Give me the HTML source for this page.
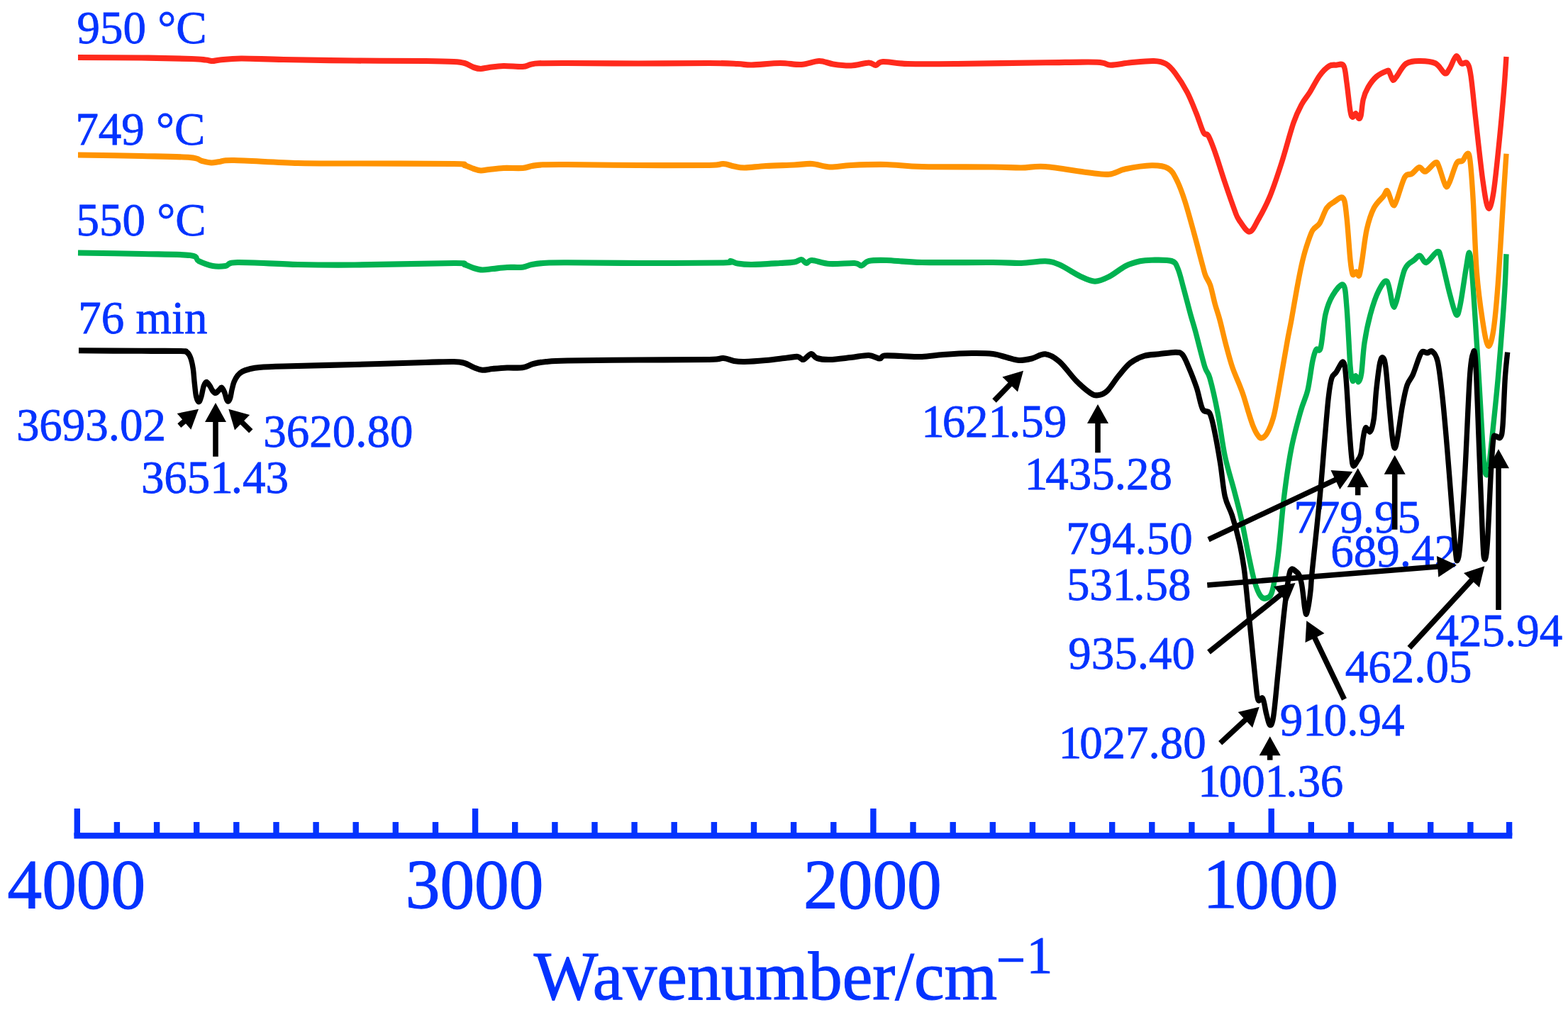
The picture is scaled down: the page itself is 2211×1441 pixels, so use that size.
<!DOCTYPE html>
<html lang="en"><head><meta charset="utf-8"><title>FTIR spectra</title>
<style>html,body{margin:0;padding:0;background:#fff;}body{width:2211px;height:1441px;overflow:hidden;}svg{display:block;}text{font-family:"Liberation Serif","DejaVu Serif",serif;fill:#0433ff;}.lab{stroke:#0433ff;stroke-width:0.8px;}.big{stroke-width:1.2px;}.c{fill:none;stroke-width:7.4;stroke-linejoin:round;stroke-linecap:butt;}</style></head><body>
<svg width="2211" height="1441" viewBox="0 0 2211 1441">
<rect width="2211" height="1441" fill="#fff"/>
<g class="lab" font-size="66.5">
<text transform="translate(108.6,60.6) scale(0.977,1)">950 °C</text>
<text transform="translate(106.4,204.1) scale(0.977,1)">749 °C</text>
<text transform="translate(107.6,332.4) scale(0.977,1)">550 °C</text>
<text transform="translate(110.3,469.7) scale(0.977,1)">76 min</text>
<text transform="translate(22.9,621.1) scale(0.977,1)">3693.02</text>
<text transform="translate(198.9,695.3) scale(0.977,1)" dx="0 0 0 0 -3.1 0 0">3651.43</text>
<text transform="translate(371.3,629.6) scale(0.977,1)">3620.80</text>
<text transform="translate(1299.2,615.7) scale(0.977,1)" dx="0 -3.1 0 0 -3.1 0 0">1621.59</text>
<text transform="translate(1444.8,689.9) scale(0.977,1)" dx="0 -3.1 0 0 0 0 0">1435.28</text>
<text transform="translate(1503.2,781.4) scale(0.977,1)">794.50</text>
<text transform="translate(1503.9,845.6) scale(0.977,1)" dx="0 0 0 -3.1 0 0">531.58</text>
<text transform="translate(1506.3,942.9) scale(0.977,1)">935.40</text>
<text transform="translate(1492.7,1069.1) scale(0.977,1)" dx="0 -3.1 0 0 0 0 0">1027.80</text>
<text transform="translate(1689.3,1122.7) scale(0.977,1)" dx="0 -3.1 0 0 -3.1 0 0">1001.36</text>
<text transform="translate(1804.8,1037.4) scale(0.977,1)" dx="0 0 -3.1 0 0 0">910.94</text>
<text transform="translate(1896.8,962.4) scale(0.977,1)">462.05</text>
<text transform="translate(2024.6,910.6) scale(0.977,1)">425.94</text>
<text transform="translate(1824.4,751.4) scale(0.977,1)">779.95</text>
<text transform="translate(1876.3,798.6) scale(0.977,1)">689.42</text>
</g>
<g transform="scale(1,1.1)">
<path class="c" stroke="#00b250" d="M110.00 324.09C125.00 324.32 173.67 324.92 200.00 325.45C226.33 325.98 254.67 325.76 268.00 327.27C281.33 328.79 274.67 332.27 280.00 334.55C285.33 336.82 293.67 339.85 300.00 340.91C306.33 341.97 312.17 341.67 318.00 340.91C323.83 340.15 318.00 336.67 335.00 336.36C352.00 336.06 392.50 338.56 420.00 339.09C447.50 339.62 463.33 339.85 500.00 339.55C536.67 339.24 614.17 337.35 640.00 337.27C665.83 337.20 650.33 338.03 655.00 339.09C659.67 340.15 663.83 342.50 668.00 343.64C672.17 344.77 675.50 345.76 680.00 345.91C684.50 346.06 689.17 345.08 695.00 344.55C700.83 344.02 708.00 343.08 715.00 342.73C722.00 342.38 731.17 343.06 737.00 342.45C742.83 341.85 744.50 340.00 750.00 339.09C755.50 338.18 761.67 337.41 770.00 337.00C778.33 336.59 778.33 336.59 800.00 336.64C821.67 336.68 863.33 337.24 900.00 337.27C936.67 337.30 998.33 337.27 1020.00 336.82C1041.67 336.36 1026.67 334.39 1030.00 334.55C1033.33 334.70 1035.00 336.97 1040.00 337.73C1045.00 338.48 1050.00 339.17 1060.00 339.09C1070.00 339.02 1090.00 337.80 1100.00 337.27C1110.00 336.74 1115.00 336.67 1120.00 335.91C1125.00 335.15 1127.17 332.50 1130.00 332.73C1132.83 332.95 1134.50 337.12 1137.00 337.27C1139.50 337.42 1139.50 333.48 1145.00 333.64C1150.50 333.79 1160.00 337.58 1170.00 338.18C1180.00 338.79 1197.50 336.89 1205.00 337.27C1212.50 337.65 1211.67 340.91 1215.00 340.45C1218.33 340.00 1219.17 335.68 1225.00 334.55C1230.83 333.41 1237.50 333.33 1250.00 333.64C1262.50 333.94 1275.00 335.91 1300.00 336.36C1325.00 336.82 1376.67 336.21 1400.00 336.36C1423.33 336.52 1427.67 337.53 1440.00 337.27C1452.33 337.02 1465.00 334.47 1474.00 334.82C1483.00 335.17 1485.67 336.08 1494.00 339.36C1502.33 342.65 1515.67 351.00 1524.00 354.55C1532.33 358.09 1537.33 360.64 1544.00 360.64C1550.67 360.64 1556.78 357.83 1564.00 354.55C1571.22 351.26 1580.08 344.20 1587.30 340.91C1594.52 337.62 1601.18 336.08 1607.30 334.82C1613.42 333.56 1616.55 333.41 1624.00 333.36C1631.45 333.32 1645.83 332.68 1652.00 334.55C1658.17 336.41 1658.17 338.68 1661.00 344.55C1663.83 350.41 1666.05 359.98 1669.00 369.73C1671.95 379.47 1675.95 393.91 1678.70 403.00C1681.45 412.09 1682.17 413.15 1685.50 424.27C1688.83 435.39 1695.28 459.64 1698.70 469.73C1702.12 479.82 1702.90 474.73 1706.00 484.82C1709.10 494.91 1713.75 513.61 1717.30 530.27C1720.85 546.94 1723.40 568.15 1727.30 584.82C1731.20 601.48 1736.80 616.64 1740.70 630.27C1744.60 643.91 1747.37 653.00 1750.70 666.64C1754.03 680.27 1757.65 698.95 1760.70 712.09C1763.75 725.23 1766.23 736.86 1769.00 745.45C1771.77 754.05 1774.52 760.11 1777.30 763.64C1780.08 767.17 1782.92 767.65 1785.70 766.64C1788.48 765.62 1791.23 766.64 1794.00 757.55C1796.77 748.45 1799.52 732.29 1802.30 712.09C1805.08 691.89 1807.63 659.09 1810.70 636.36C1813.77 613.64 1816.82 593.91 1820.70 575.73C1824.58 557.55 1830.12 539.89 1834.00 527.27C1837.88 514.65 1841.22 510.61 1844.00 500.00C1846.78 489.39 1848.75 472.23 1850.70 463.64C1852.65 455.05 1853.77 451.48 1855.70 448.45C1857.63 445.42 1860.08 453.03 1862.30 445.45C1864.52 437.88 1866.22 414.11 1869.00 403.00C1871.78 391.89 1874.83 385.12 1879.00 378.82C1883.17 372.52 1890.67 362.67 1894.00 365.18C1897.33 367.70 1897.33 376.48 1899.00 393.91C1900.67 411.33 1902.62 454.06 1904.00 469.73C1905.38 485.39 1906.02 485.89 1907.30 487.91C1908.58 489.92 1910.30 481.58 1911.70 481.82C1913.10 482.06 1914.37 489.86 1915.70 489.36C1917.03 488.86 1918.32 487.15 1919.70 478.82C1921.08 470.48 1921.90 452.00 1924.00 439.36C1926.10 426.73 1928.97 414.11 1932.30 403.00C1935.63 391.89 1940.05 379.74 1944.00 372.73C1947.95 365.71 1952.67 357.88 1956.00 360.91C1959.33 363.94 1961.83 386.67 1964.00 390.91C1966.17 395.15 1966.22 393.94 1969.00 386.36C1971.78 378.79 1976.53 354.29 1980.70 345.45C1984.87 336.62 1990.40 336.29 1994.00 333.36C1997.60 330.44 1999.42 327.41 2002.30 327.91C2005.18 328.41 2007.23 337.23 2011.30 336.36C2015.37 335.50 2023.20 323.48 2026.70 322.73C2030.20 321.97 2029.42 322.98 2032.30 331.82C2035.18 340.65 2040.50 363.86 2044.00 375.73C2047.50 387.59 2050.80 400.47 2053.30 403.00C2055.80 405.53 2056.67 400.80 2059.00 390.91C2061.33 381.02 2065.17 354.77 2067.30 343.64C2069.43 332.50 2070.40 323.03 2071.80 324.09C2073.20 325.15 2073.95 330.79 2075.70 350.00C2077.45 369.21 2080.37 411.83 2082.30 439.36C2084.23 466.89 2085.63 489.92 2087.30 515.18C2088.97 540.44 2091.02 575.52 2092.30 590.91C2093.58 606.30 2093.88 606.03 2095.00 607.55C2096.12 609.06 2097.22 610.35 2099.00 600.00C2100.78 589.65 2103.48 564.65 2105.70 545.45C2107.92 526.26 2110.08 507.55 2112.30 484.82C2114.52 462.09 2117.33 429.29 2119.00 409.09C2120.67 388.89 2121.47 377.53 2122.30 363.64C2123.13 349.74 2123.72 332.05 2124.00 325.73"/>
<path class="c" stroke="#ff9300" d="M110.00 198.64C125.00 198.86 173.67 199.47 200.00 200.00C226.33 200.53 253.83 200.76 268.00 201.82C282.17 202.88 280.00 205.23 285.00 206.36C290.00 207.50 293.83 208.48 298.00 208.64C302.17 208.79 304.67 207.80 310.00 207.27C315.33 206.74 311.67 205.15 330.00 205.45C348.33 205.76 391.67 208.41 420.00 209.09C448.33 209.77 463.33 209.39 500.00 209.55C536.67 209.70 614.17 209.62 640.00 210.00C665.83 210.38 650.33 210.76 655.00 211.82C659.67 212.88 664.17 215.23 668.00 216.36C671.83 217.50 674.33 218.48 678.00 218.64C681.67 218.79 684.67 217.80 690.00 217.27C695.33 216.74 702.17 215.76 710.00 215.45C717.83 215.15 730.33 215.91 737.00 215.45C743.67 215.00 745.33 213.44 750.00 212.73C754.67 212.02 756.67 211.48 765.00 211.18C773.33 210.88 777.50 210.80 800.00 210.91C822.50 211.02 866.67 211.67 900.00 211.82C933.33 211.97 980.00 212.12 1000.00 211.82C1020.00 211.52 1014.17 209.77 1020.00 210.00C1025.83 210.23 1030.00 212.35 1035.00 213.18C1040.00 214.02 1042.50 215.08 1050.00 215.00C1057.50 214.92 1068.33 213.33 1080.00 212.73C1091.67 212.12 1109.17 211.82 1120.00 211.36C1130.83 210.91 1136.67 209.55 1145.00 210.00C1153.33 210.45 1160.83 213.79 1170.00 214.09C1179.17 214.39 1186.67 212.35 1200.00 211.82C1213.33 211.29 1233.33 210.61 1250.00 210.91C1266.67 211.21 1275.00 213.11 1300.00 213.64C1325.00 214.17 1376.67 213.86 1400.00 214.09C1423.33 214.32 1427.67 215.08 1440.00 215.00C1452.33 214.92 1458.33 212.61 1474.00 213.64C1489.67 214.67 1519.00 219.56 1534.00 221.18C1549.00 222.80 1555.17 224.12 1564.00 223.36C1572.83 222.61 1577.00 218.52 1587.00 216.64C1597.00 214.76 1614.00 212.24 1624.00 212.09C1634.00 211.94 1641.17 212.70 1647.00 215.73C1652.83 218.76 1655.05 223.30 1659.00 230.27C1662.95 237.24 1666.53 245.92 1670.70 257.55C1674.87 269.17 1679.87 286.36 1684.00 300.00C1688.13 313.64 1692.83 330.44 1695.50 339.36C1698.17 348.29 1698.15 349.17 1700.00 353.55C1701.85 357.92 1704.38 359.59 1706.60 365.64C1708.82 371.68 1711.07 382.42 1713.30 389.82C1715.53 397.21 1717.42 401.24 1720.00 410.00C1722.58 418.76 1725.85 432.26 1728.80 442.36C1731.75 452.47 1734.73 462.56 1737.70 470.64C1740.67 478.71 1744.00 484.77 1746.60 490.82C1749.20 496.86 1751.07 500.86 1753.30 506.91C1755.53 512.95 1757.78 520.70 1760.00 527.09C1762.22 533.48 1764.40 540.23 1766.60 545.27C1768.80 550.32 1771.17 554.67 1773.20 557.36C1775.23 560.06 1776.57 561.79 1778.80 561.45C1781.03 561.12 1783.82 559.74 1786.60 555.36C1789.38 550.98 1793.10 542.59 1795.50 535.18C1797.90 527.77 1798.78 521.67 1801.00 510.91C1803.22 500.15 1806.40 483.08 1808.80 470.64C1811.20 458.20 1813.37 446.38 1815.40 436.27C1817.43 426.17 1818.77 421.11 1821.00 410.00C1823.23 398.89 1826.40 381.41 1828.80 369.64C1831.20 357.86 1833.28 347.94 1835.40 339.36C1837.52 330.79 1838.95 325.50 1841.50 318.18C1844.05 310.86 1847.50 300.76 1850.70 295.45C1853.90 290.15 1857.37 291.17 1860.70 286.36C1864.03 281.56 1867.37 271.18 1870.70 266.64C1874.03 262.09 1876.82 261.18 1880.70 259.09C1884.58 257.00 1890.95 250.80 1894.00 254.09C1897.05 257.38 1897.33 265.61 1899.00 278.82C1900.67 292.03 1902.62 321.24 1904.00 333.36C1905.38 345.48 1905.92 349.03 1907.30 351.55C1908.68 354.06 1910.73 348.21 1912.30 348.45C1913.87 348.70 1915.30 355.52 1916.70 353.00C1918.10 350.48 1918.93 343.21 1920.70 333.36C1922.47 323.52 1924.53 305.03 1927.30 293.91C1930.07 282.79 1933.40 273.70 1937.30 266.64C1941.20 259.58 1947.53 255.18 1950.70 251.55C1953.87 247.91 1954.08 243.06 1956.30 244.82C1958.52 246.58 1961.88 259.97 1964.00 262.09C1966.12 264.21 1966.22 263.35 1969.00 257.55C1971.78 251.74 1977.08 233.08 1980.70 227.27C1984.32 221.47 1987.27 224.85 1990.70 222.73C1994.13 220.61 1998.08 215.05 2001.30 214.55C2004.52 214.05 2006.22 220.74 2010.00 219.73C2013.78 218.71 2020.83 209.47 2024.00 208.45C2027.17 207.44 2026.62 208.73 2029.00 213.64C2031.38 218.55 2035.80 234.62 2038.30 237.91C2040.80 241.20 2041.38 238.17 2044.00 233.36C2046.62 228.56 2050.95 213.64 2054.00 209.09C2057.05 204.55 2059.80 208.11 2062.30 206.09C2064.80 204.08 2067.22 197.00 2069.00 197.00C2070.78 197.00 2071.62 196.00 2073.00 206.09C2074.38 216.18 2075.75 233.82 2077.30 257.55C2078.85 281.27 2080.07 322.70 2082.30 348.45C2084.53 374.21 2088.03 396.33 2090.70 412.09C2093.37 427.85 2095.80 440.97 2098.30 443.00C2100.80 445.03 2103.37 437.50 2105.70 424.27C2108.03 411.05 2109.80 393.94 2112.30 363.64C2114.80 333.33 2118.75 270.23 2120.70 242.45C2122.65 214.68 2123.45 204.58 2124.00 197.00"/>
<path class="c" stroke="#ff2a1c" d="M110.00 73.64C125.00 73.71 173.33 73.79 200.00 74.09C226.67 74.39 255.00 75.00 270.00 75.45C285.00 75.91 285.00 76.36 290.00 76.82C295.00 77.27 296.67 78.18 300.00 78.18C303.33 78.18 303.33 77.35 310.00 76.82C316.67 76.29 325.00 75.08 340.00 75.00C355.00 74.92 373.33 75.91 400.00 76.36C426.67 76.82 466.67 77.42 500.00 77.73C533.33 78.03 576.67 77.95 600.00 78.18C623.33 78.41 630.83 78.64 640.00 79.09C649.17 79.55 650.33 79.70 655.00 80.91C659.67 82.12 664.17 85.15 668.00 86.36C671.83 87.58 674.33 88.18 678.00 88.18C681.67 88.18 684.67 86.97 690.00 86.36C695.33 85.76 702.17 84.70 710.00 84.55C717.83 84.39 730.67 85.76 737.00 85.45C743.33 85.15 744.17 83.44 748.00 82.73C751.83 82.02 751.33 81.48 760.00 81.18C768.67 80.88 776.67 80.88 800.00 80.91C823.33 80.94 866.67 81.36 900.00 81.36C933.33 81.36 976.67 80.83 1000.00 80.91C1023.33 80.98 1030.00 81.44 1040.00 81.82C1050.00 82.20 1050.00 83.33 1060.00 83.18C1070.00 83.03 1088.33 80.98 1100.00 80.91C1111.67 80.83 1120.83 83.18 1130.00 82.73C1139.17 82.27 1147.50 78.26 1155.00 78.18C1162.50 78.11 1167.50 81.29 1175.00 82.27C1182.50 83.26 1191.67 84.39 1200.00 84.09C1208.33 83.79 1219.17 80.53 1225.00 80.45C1230.83 80.38 1231.67 83.86 1235.00 83.64C1238.33 83.41 1237.50 79.39 1245.00 79.09C1252.50 78.79 1262.50 81.36 1280.00 81.82C1297.50 82.27 1317.67 82.08 1350.00 81.82C1382.33 81.56 1441.17 80.62 1474.00 80.27C1506.83 79.92 1531.67 79.21 1547.00 79.73C1562.33 80.24 1558.17 83.27 1566.00 83.36C1573.83 83.45 1583.83 81.14 1594.00 80.27C1604.17 79.41 1618.67 77.92 1627.00 78.18C1635.33 78.44 1639.00 79.24 1644.00 81.82C1649.00 84.39 1652.00 87.58 1657.00 93.64C1662.00 99.70 1669.00 109.55 1674.00 118.18C1679.00 126.82 1683.17 136.86 1687.00 145.45C1690.83 154.05 1694.17 164.92 1697.00 169.73C1699.83 174.53 1701.17 169.73 1704.00 174.27C1706.83 178.82 1710.17 187.15 1714.00 197.00C1717.83 206.85 1722.50 221.24 1727.00 233.36C1731.50 245.48 1737.67 261.65 1741.00 269.73C1744.33 277.80 1743.55 277.27 1747.00 281.82C1750.45 286.36 1757.20 297.00 1761.70 297.00C1766.20 297.00 1769.17 289.39 1774.00 281.82C1778.83 274.24 1785.20 263.67 1790.70 251.55C1796.20 239.42 1801.45 224.80 1807.00 209.09C1812.55 193.38 1819.22 169.89 1824.00 157.27C1828.78 144.65 1831.87 139.88 1835.70 133.36C1839.53 126.85 1842.83 124.24 1847.00 118.18C1851.17 112.12 1856.20 102.56 1860.70 97.00C1865.20 91.44 1870.12 87.09 1874.00 84.82C1877.88 82.55 1880.55 83.45 1884.00 83.36C1887.45 83.27 1892.20 80.48 1894.70 84.27C1897.20 88.06 1897.45 96.39 1899.00 106.09C1900.55 115.79 1902.62 135.14 1904.00 142.45C1905.38 149.77 1906.02 149.50 1907.30 150.00C1908.58 150.50 1910.30 145.20 1911.70 145.45C1913.10 145.71 1914.48 151.05 1915.70 151.55C1916.92 152.05 1917.90 152.50 1919.00 148.45C1920.10 144.41 1920.63 133.33 1922.30 127.27C1923.97 121.21 1925.93 116.89 1929.00 112.09C1932.07 107.29 1936.25 101.98 1940.70 98.45C1945.15 94.92 1952.65 91.91 1955.70 90.91C1958.75 89.91 1957.62 90.53 1959.00 92.45C1960.38 94.38 1962.33 101.45 1964.00 102.45C1965.67 103.45 1965.95 101.89 1969.00 98.45C1972.05 95.02 1977.02 85.20 1982.30 81.82C1987.58 78.44 1993.75 78.29 2000.70 78.18C2007.65 78.08 2017.90 78.56 2024.00 81.18C2030.10 83.80 2033.97 92.79 2037.30 93.91C2040.63 95.03 2041.33 91.55 2044.00 87.91C2046.67 84.27 2050.52 73.21 2053.30 72.09C2056.08 70.97 2058.08 79.67 2060.70 81.18C2063.32 82.70 2066.78 78.55 2069.00 81.18C2071.22 83.82 2072.05 85.27 2074.00 97.00C2075.95 108.73 2077.92 129.33 2080.70 151.55C2083.48 173.76 2087.77 211.14 2090.70 230.27C2093.63 249.41 2095.80 263.38 2098.30 266.36C2100.80 269.35 2103.08 262.27 2105.70 248.18C2108.32 234.09 2111.50 203.98 2114.00 181.82C2116.50 159.65 2119.03 133.36 2120.70 115.18C2122.37 97.00 2123.45 79.80 2124.00 72.73"/>
<path class="c" stroke="#000000" d="M111.00 449.36C125.83 449.44 176.00 449.71 200.00 449.82C224.00 449.92 244.33 449.67 255.00 450.00C265.67 450.33 261.68 450.30 264.00 451.82C266.32 453.33 267.52 455.61 268.90 459.09C270.28 462.58 271.42 467.52 272.30 472.73C273.18 477.94 273.48 484.47 274.20 490.36C274.92 496.26 275.55 504.00 276.60 508.09C277.65 512.18 279.28 514.91 280.50 514.91C281.72 514.91 282.77 511.44 283.90 508.09C285.03 504.74 286.08 497.85 287.30 494.82C288.52 491.79 289.75 489.91 291.20 489.91C292.65 489.91 294.55 492.97 296.00 494.82C297.45 496.67 298.52 499.53 299.90 501.00C301.28 502.47 302.83 503.79 304.30 503.64C305.77 503.48 307.32 501.20 308.70 500.09C310.08 498.98 311.30 496.56 312.60 497.00C313.90 497.44 315.37 500.30 316.50 502.73C317.63 505.15 318.52 509.62 319.40 511.55C320.28 513.47 320.92 514.56 321.80 514.27C322.68 513.98 323.82 512.33 324.70 509.82C325.58 507.30 326.22 502.56 327.10 499.18C327.98 495.80 328.70 492.48 330.00 489.55C331.30 486.61 332.95 483.76 334.90 481.55C336.85 479.33 338.95 477.67 341.70 476.27C344.45 474.88 347.35 474.08 351.40 473.18C355.45 472.29 357.90 471.52 366.00 470.91C374.10 470.30 377.67 470.15 400.00 469.55C422.33 468.94 466.67 468.11 500.00 467.27C533.33 466.44 576.67 465.15 600.00 464.55C623.33 463.94 630.83 463.48 640.00 463.64C649.17 463.79 650.33 464.24 655.00 465.45C659.67 466.67 663.83 469.44 668.00 470.91C672.17 472.38 675.50 473.97 680.00 474.27C684.50 474.58 689.17 473.21 695.00 472.73C700.83 472.24 708.00 471.62 715.00 471.36C722.00 471.11 730.83 472.02 737.00 471.18C743.17 470.35 746.50 467.62 752.00 466.36C757.50 465.11 762.00 464.32 770.00 463.64C778.00 462.95 778.33 462.65 800.00 462.27C821.67 461.89 866.67 461.59 900.00 461.36C933.33 461.14 980.00 461.29 1000.00 460.91C1020.00 460.53 1014.17 458.79 1020.00 459.09C1025.83 459.39 1030.00 461.97 1035.00 462.73C1040.00 463.48 1042.50 463.79 1050.00 463.64C1057.50 463.48 1070.00 462.65 1080.00 461.82C1090.00 460.98 1102.50 459.39 1110.00 458.64C1117.50 457.88 1121.17 456.89 1125.00 457.27C1128.83 457.65 1129.88 461.52 1133.00 460.91C1136.12 460.30 1140.53 453.94 1143.70 453.64C1146.87 453.33 1147.62 457.88 1152.00 459.09C1156.38 460.30 1162.00 461.06 1170.00 460.91C1178.00 460.76 1190.83 459.09 1200.00 458.18C1209.17 457.27 1218.33 455.23 1225.00 455.45C1231.67 455.68 1236.33 459.47 1240.00 459.55C1243.67 459.62 1242.00 456.44 1247.00 455.91C1252.00 455.38 1261.17 456.14 1270.00 456.36C1278.83 456.59 1290.00 457.58 1300.00 457.27C1310.00 456.97 1318.33 455.30 1330.00 454.55C1341.67 453.79 1358.33 452.88 1370.00 452.73C1381.67 452.58 1391.67 452.73 1400.00 453.64C1408.33 454.55 1413.83 456.82 1420.00 458.18C1426.17 459.55 1431.17 461.59 1437.00 461.82C1442.83 462.05 1448.83 460.86 1455.00 459.55C1461.17 458.23 1467.50 453.23 1474.00 453.91C1480.50 454.59 1486.78 457.97 1494.00 463.64C1501.22 469.30 1510.08 481.24 1517.30 487.91C1524.52 494.58 1532.18 500.52 1537.30 503.64C1542.42 506.76 1544.10 506.98 1548.00 506.64C1551.90 506.29 1555.82 505.68 1560.70 501.55C1565.58 497.41 1571.75 487.88 1577.30 481.82C1582.85 475.76 1587.88 469.47 1594.00 465.18C1600.12 460.89 1607.33 457.97 1614.00 456.09C1620.67 454.21 1626.78 454.67 1634.00 453.91C1641.22 453.15 1651.75 451.44 1657.30 451.55C1662.85 451.65 1664.23 451.52 1667.30 454.55C1670.37 457.58 1672.37 462.65 1675.70 469.73C1679.03 476.80 1683.97 487.91 1687.30 497.00C1690.63 506.09 1692.63 518.82 1695.70 524.27C1698.77 529.73 1702.93 525.18 1705.70 529.73C1708.47 534.27 1709.80 540.85 1712.30 551.55C1714.80 562.24 1718.20 579.77 1720.70 593.91C1723.20 608.05 1724.53 625.24 1727.30 636.36C1730.07 647.48 1733.97 651.05 1737.30 660.64C1740.63 670.23 1744.52 682.80 1747.30 693.91C1750.08 705.02 1752.33 717.17 1754.00 727.27C1755.67 737.38 1755.63 739.89 1757.30 754.55C1758.97 769.20 1761.77 794.98 1764.00 815.18C1766.23 835.38 1769.03 862.09 1770.70 875.73C1772.37 889.36 1772.33 893.71 1774.00 897.00C1775.67 900.29 1778.75 892.42 1780.70 895.45C1782.65 898.48 1784.03 909.58 1785.70 915.18C1787.37 920.79 1789.03 928.59 1790.70 929.09C1792.37 929.59 1793.77 929.59 1795.70 918.18C1797.63 906.77 1799.80 882.86 1802.30 860.64C1804.80 838.41 1808.20 805.03 1810.70 784.82C1813.20 764.61 1815.52 748.58 1817.30 739.36C1819.08 730.15 1819.78 730.73 1821.40 729.55C1823.02 728.36 1825.23 730.98 1827.00 732.27C1828.77 733.56 1830.58 734.47 1832.00 737.27C1833.42 740.08 1834.55 744.70 1835.50 749.09C1836.45 753.48 1837.00 758.64 1837.70 763.64C1838.40 768.64 1839.02 775.15 1839.70 779.09C1840.38 783.03 1841.03 787.12 1841.80 787.27C1842.57 787.42 1843.52 783.18 1844.30 780.00C1845.08 776.82 1845.83 772.42 1846.50 768.18C1847.17 763.94 1847.63 760.91 1848.30 754.55C1848.97 748.18 1848.35 749.70 1850.50 730.00C1852.65 710.30 1858.25 664.59 1861.20 636.36C1864.15 608.14 1866.18 581.85 1868.20 560.64C1870.22 539.42 1871.70 521.73 1873.30 509.09C1874.90 496.45 1876.02 490.12 1877.80 484.82C1879.58 479.52 1881.30 480.73 1884.00 477.27C1886.70 473.82 1891.67 462.83 1894.00 464.09C1896.33 465.35 1896.62 471.26 1898.00 484.82C1899.38 498.38 1901.02 528.79 1902.30 545.45C1903.58 562.12 1904.70 576.23 1905.70 584.82C1906.70 593.41 1906.92 595.98 1908.30 597.00C1909.68 598.02 1912.22 593.44 1914.00 590.91C1915.78 588.38 1917.62 586.86 1919.00 581.82C1920.38 576.77 1921.18 566.20 1922.30 560.64C1923.42 555.08 1924.03 549.73 1925.70 548.45C1927.37 547.18 1930.37 555.02 1932.30 553.00C1934.23 550.98 1935.90 545.20 1937.30 536.36C1938.70 527.53 1939.30 511.82 1940.70 500.00C1942.10 488.18 1944.15 472.35 1945.70 465.45C1947.25 458.56 1948.62 457.73 1950.00 458.64C1951.38 459.55 1952.50 460.48 1954.00 470.91C1955.50 481.33 1957.45 506.23 1959.00 521.18C1960.55 536.14 1962.02 551.79 1963.30 560.64C1964.58 569.48 1965.47 574.27 1966.70 574.27C1967.93 574.27 1968.93 569.48 1970.70 560.64C1972.47 551.79 1975.08 532.30 1977.30 521.18C1979.52 510.06 1981.50 500.73 1984.00 493.91C1986.50 487.09 1989.52 486.08 1992.30 480.27C1995.08 474.47 1998.50 463.98 2000.70 459.09C2002.90 454.20 2003.53 452.05 2005.50 450.91C2007.47 449.77 2010.17 452.35 2012.50 452.27C2014.83 452.20 2017.03 448.56 2019.50 450.45C2021.97 452.35 2024.88 453.86 2027.30 463.64C2029.72 473.41 2031.77 490.41 2034.00 509.09C2036.23 527.77 2038.48 551.98 2040.70 575.73C2042.92 599.47 2045.37 629.82 2047.30 651.55C2049.23 673.27 2051.02 694.98 2052.30 706.09C2053.58 717.20 2053.88 719.70 2055.00 718.18C2056.12 716.67 2057.22 715.68 2059.00 697.00C2060.78 678.32 2063.48 641.45 2065.70 606.09C2067.92 570.73 2070.47 510.15 2072.30 484.82C2074.13 459.48 2075.30 457.62 2076.70 454.09C2078.10 450.56 2079.20 443.36 2080.70 463.64C2082.20 483.91 2084.03 537.85 2085.70 575.73C2087.37 613.61 2089.43 667.42 2090.70 690.91C2091.97 714.39 2092.20 715.62 2093.30 716.64C2094.40 717.65 2095.80 715.42 2097.30 697.00C2098.80 678.58 2100.90 628.32 2102.30 606.09C2103.70 583.86 2104.58 571.47 2105.70 563.64C2106.82 555.80 2107.33 559.59 2109.00 559.09C2110.67 558.59 2114.03 562.91 2115.70 560.64C2117.37 558.36 2117.90 558.09 2119.00 545.45C2120.10 532.82 2121.18 500.47 2122.30 484.82C2123.42 469.17 2125.13 457.09 2125.70 451.55"/>
</g>
<line x1="252.8" y1="600.1" x2="261.0" y2="593.1" stroke="#000" stroke-width="7.6"/><polygon points="280.0,576.8 269.3,605.8 249.7,583.0" fill="#000"/>
<line x1="304.0" y1="643.8" x2="304.0" y2="593.1" stroke="#000" stroke-width="7.6"/><polygon points="304.0,568.1 319.0,595.1 289.0,595.1" fill="#000"/>
<line x1="353.8" y1="607.9" x2="340.1" y2="594.4" stroke="#000" stroke-width="7.6"/><polygon points="322.3,576.8 352.1,585.1 331.0,606.4" fill="#000"/>
<line x1="1402.0" y1="565.0" x2="1425.6" y2="540.7" stroke="#000" stroke-width="7.6"/><polygon points="1443.0,522.7 1435.0,552.5 1413.4,531.6" fill="#000"/>
<line x1="1548.0" y1="638.3" x2="1548.0" y2="595.0" stroke="#000" stroke-width="7.6"/><polygon points="1548.0,570.0 1563.0,597.0 1533.0,597.0" fill="#000"/>
<line x1="1704.0" y1="760.7" x2="1884.7" y2="675.6" stroke="#000" stroke-width="7.6"/><polygon points="1907.3,665.0 1889.3,690.1 1876.5,662.9" fill="#000"/>
<line x1="1914.7" y1="698.3" x2="1914.7" y2="685.0" stroke="#000" stroke-width="7.6"/><polygon points="1914.7,660.0 1929.7,687.0 1899.7,687.0" fill="#000"/>
<line x1="1966.7" y1="746.7" x2="1966.7" y2="666.7" stroke="#000" stroke-width="7.6"/><polygon points="1966.7,641.7 1981.7,668.7 1951.7,668.7" fill="#000"/>
<line x1="1702.3" y1="825.0" x2="2029.1" y2="798.7" stroke="#000" stroke-width="7.6"/><polygon points="2054.0,796.7 2028.3,813.8 2025.9,783.9" fill="#000"/>
<line x1="2113.0" y1="860.0" x2="2113.0" y2="658.3" stroke="#000" stroke-width="7.6"/><polygon points="2113.0,633.3 2128.0,660.3 2098.0,660.3" fill="#000"/>
<line x1="1704.5" y1="919.5" x2="1807.0" y2="837.6" stroke="#000" stroke-width="7.6"/><polygon points="1826.5,822.0 1814.8,850.6 1796.0,827.1" fill="#000"/>
<line x1="1720.7" y1="1047.7" x2="1757.4" y2="1013.7" stroke="#000" stroke-width="7.6"/><polygon points="1775.7,996.7 1766.1,1026.1 1745.7,1004.1" fill="#000"/>
<line x1="1790.7" y1="1071.7" x2="1790.7" y2="1063.3" stroke="#000" stroke-width="7.6"/><polygon points="1790.7,1038.3 1805.7,1065.3 1775.7,1065.3" fill="#000"/>
<line x1="1895.5" y1="986.0" x2="1853.1" y2="897.7" stroke="#000" stroke-width="7.6"/><polygon points="1842.3,875.2 1867.5,893.0 1840.5,906.0" fill="#000"/>
<line x1="1987.3" y1="913.3" x2="2076.4" y2="816.7" stroke="#000" stroke-width="7.6"/><polygon points="2093.3,798.3 2086.0,828.3 2064.0,808.0" fill="#000"/>
<g fill="#0433ff">
<rect x="104.4" y="1174.1" width="2027.9" height="8.4"/>
<rect x="104.6" y="1140.0" width="8.4" height="38.3"/>
<rect x="160.7" y="1159.0" width="8.4" height="19.3"/>
<rect x="216.9" y="1159.0" width="8.4" height="19.3"/>
<rect x="273.0" y="1159.0" width="8.4" height="19.3"/>
<rect x="329.1" y="1159.0" width="8.4" height="19.3"/>
<rect x="385.3" y="1159.0" width="8.4" height="19.3"/>
<rect x="441.4" y="1159.0" width="8.4" height="19.3"/>
<rect x="497.5" y="1159.0" width="8.4" height="19.3"/>
<rect x="553.6" y="1159.0" width="8.4" height="19.3"/>
<rect x="609.8" y="1159.0" width="8.4" height="19.3"/>
<rect x="665.9" y="1140.0" width="8.4" height="38.3"/>
<rect x="722.0" y="1159.0" width="8.4" height="19.3"/>
<rect x="778.2" y="1159.0" width="8.4" height="19.3"/>
<rect x="834.3" y="1159.0" width="8.4" height="19.3"/>
<rect x="890.4" y="1159.0" width="8.4" height="19.3"/>
<rect x="946.5" y="1159.0" width="8.4" height="19.3"/>
<rect x="1002.7" y="1159.0" width="8.4" height="19.3"/>
<rect x="1058.8" y="1159.0" width="8.4" height="19.3"/>
<rect x="1114.9" y="1159.0" width="8.4" height="19.3"/>
<rect x="1171.1" y="1159.0" width="8.4" height="19.3"/>
<rect x="1227.2" y="1140.0" width="8.4" height="38.3"/>
<rect x="1283.3" y="1159.0" width="8.4" height="19.3"/>
<rect x="1339.5" y="1159.0" width="8.4" height="19.3"/>
<rect x="1395.6" y="1159.0" width="8.4" height="19.3"/>
<rect x="1451.7" y="1159.0" width="8.4" height="19.3"/>
<rect x="1507.8" y="1159.0" width="8.4" height="19.3"/>
<rect x="1564.0" y="1159.0" width="8.4" height="19.3"/>
<rect x="1620.1" y="1159.0" width="8.4" height="19.3"/>
<rect x="1676.2" y="1159.0" width="8.4" height="19.3"/>
<rect x="1732.4" y="1159.0" width="8.4" height="19.3"/>
<rect x="1788.5" y="1140.0" width="8.4" height="38.3"/>
<rect x="1844.6" y="1159.0" width="8.4" height="19.3"/>
<rect x="1900.8" y="1159.0" width="8.4" height="19.3"/>
<rect x="1956.9" y="1159.0" width="8.4" height="19.3"/>
<rect x="2013.0" y="1159.0" width="8.4" height="19.3"/>
<rect x="2069.2" y="1159.0" width="8.4" height="19.3"/>
<rect x="2123.9" y="1159.0" width="8.4" height="19.3"/>
</g>
<g class="lab big" font-size="98.5">
<text transform="translate(107.8,1280.1) scale(0.988,1)" text-anchor="middle">4000</text>
<text transform="translate(669.1,1280.1) scale(0.988,1)" text-anchor="middle">3000</text>
<text transform="translate(1230.4,1280.1) scale(0.988,1)" text-anchor="middle">2000</text>
<text transform="translate(1791.7,1280.1) scale(0.988,1)" text-anchor="middle" dx="0 -4.0 0 0">1000</text>
</g>
<text class="lab big" transform="translate(752.8,1409.2) scale(0.995,1)" font-size="96.5">Wavenumber/cm<tspan font-size="73" dx="-1.4 1.9" dy="-31.5 -6.1">−1</tspan></text>
</svg></body></html>
